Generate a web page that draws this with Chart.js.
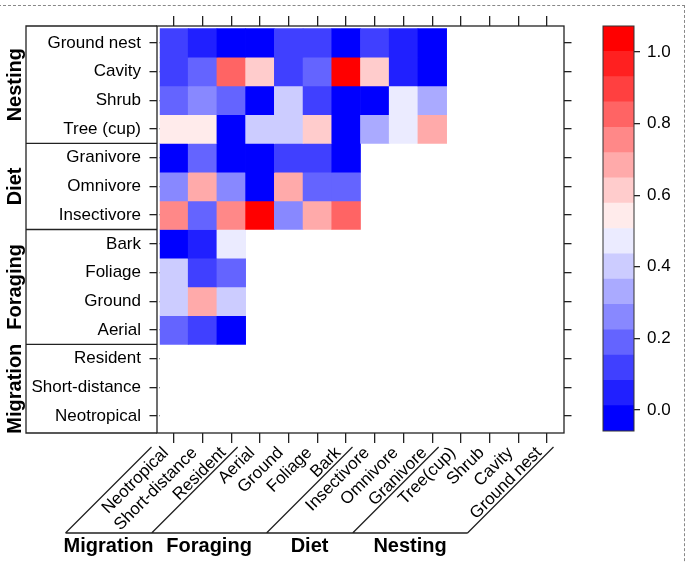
<!DOCTYPE html>
<html>
<head>
<meta charset="utf-8">
<script src="https://cdn.jsdelivr.net/npm/chart.js@4.4.1/dist/chart.umd.min.js"></script>
<style>
  html, body { margin: 0; padding: 0; background: #fff; }
  #wrap { position: relative; width: 690px; height: 563px; overflow: hidden; }
  #frame { position: absolute; left: -2px; top: 5px; width: 686px; height: 600px;
           border-top: 1px dashed #888; border-right: 1px dashed #888; }
  #heat { position: absolute; left: 0; top: 0; }
  #scale { position: absolute; left: 590px; top: 0; }
</style>
</head>
<body>
<div id="wrap">
  <div id="frame"></div>
  <canvas id="heat" width="690" height="563"></canvas>
  <canvas id="scale" width="100" height="563"></canvas>
</div>
<script>
// rows top -> bottom, columns left -> right
const rowLabels = ["Ground nest", "Cavity", "Shrub", "Tree (cup)", "Granivore", "Omnivore", "Insectivore",
  "Bark", "Foliage", "Ground", "Aerial", "Resident", "Short-distance", "Neotropical"];
const colLabels = ["Neotropical", "Short-distance", "Resident", "Aerial", "Ground", "Foliage", "Bark",
  "Insectivore", "Omnivore", "Granivore", "Tree(cup)", "Shrub", "Cavity", "Ground nest"];
const colGroups = ["Migration", "Foraging", "Diet", "Nesting"];
const colGroupSizes = [3, 4, 3, 4];

// one row per rowLabels entry, values by column (missing = empty cell)
const cellValues = [
  [0.12, 0.05, -0.02, -0.02, 0.12, 0.12, -0.02, 0.12, 0.05, -0.02],
  [0.12, 0.19, 0.82, 0.61, 0.12, 0.19, 1.04, 0.61, 0.05, -0.02],
  [0.19, 0.26, 0.19, -0.02, 0.40, 0.12, -0.02, -0.02, 0.47, 0.33],
  [0.54, 0.54, -0.02, 0.40, 0.40, 0.61, -0.02, 0.33, 0.47, 0.68],
  [-0.02, 0.19, -0.02, -0.02, 0.12, 0.12, -0.02],
  [0.26, 0.68, 0.26, -0.02, 0.68, 0.19, 0.19],
  [0.75, 0.19, 0.75, 1.04, 0.26, 0.68, 0.82],
  [-0.02, 0.05, 0.47],
  [0.40, 0.12, 0.19],
  [0.40, 0.68, 0.40],
  [0.19, 0.12, -0.02],
  [],
  [],
  []
];

const scaleMin = -0.059;
const scaleMax = 1.073;
const scaleTicks = [0, 0.2, 0.4, 0.6, 0.8, 1.0];
// colour bands, bottom -> top
const palette = ["#0000ff", "#2020ff", "#4040ff", "#6464ff", "#8888ff", "#aaaaff", "#ccccff", "#ebebff",
  "#ffebeb", "#ffcccc", "#ffaaaa", "#ff8888", "#ff6464", "#ff4040", "#ff2020", "#ff0000"];

Chart.defaults.font.family = '"Liberation Sans", Arial, sans-serif';
Chart.defaults.font.size = 17;
Chart.defaults.color = "#000";

const bandW = (scaleMax - scaleMin) / palette.length;
function colorFor(v) {
  let i = Math.floor((v - scaleMin) / bandW);
  i = Math.max(0, Math.min(palette.length - 1, i));
  return palette[i];
}

const heatSets = rowLabels.map((name, r) => {
  const vals = cellValues[r];
  return {
    label: name,
    data: colLabels.map((c, i) => vals[i] == null ? null : [r, r + 1]),
    backgroundColor: colLabels.map((c, i) => vals[i] == null ? "rgba(0,0,0,0)" : colorFor(vals[i])),
    borderWidth: 0,
    grouped: false,
    barPercentage: 1,
    categoryPercentage: 1
  };
});

const rowTicks = s => { s.ticks = rowLabels.map((n, r) => ({ value: r + 0.5 })); };
const tickGrid = { drawOnChartArea: false, tickLength: 10, color: "#222", lineWidth: 1.3, offset: false };

// frame, group boxes and bottom group brackets
const decor = {
  id: "decor",
  afterDraw(chart) {
    const { ctx, chartArea: a, scales } = chart;
    const x = scales.x, y = scales.y;
    ctx.save();
    ctx.fillStyle = "#fff";
    ctx.fillRect(a.left - 2.5, a.top + 1, 2.5, a.bottom - a.top - 2);
    ctx.fillRect(a.right, a.top + 1, 2.5, a.bottom - a.top - 2);
    ctx.strokeStyle = "#222";
    ctx.lineWidth = 1.3;
    ctx.strokeRect(a.left - 2.5, a.top, a.right - a.left + 5, a.bottom - a.top);

    // left boxes
    const boxL = 26;
    ctx.beginPath();
    ctx.moveTo(a.left - 2.5, a.top); ctx.lineTo(boxL, a.top);
    ctx.lineTo(boxL, a.bottom); ctx.lineTo(a.left - 2.5, a.bottom);
    const rowGroups = colGroups.slice().reverse();
    const rowSizes = colGroupSizes.slice().reverse();
    let start = 0;
    const spans = [];
    rowSizes.forEach((n) => {
      const end = start + n;
      const py = y.getPixelForValue(end);
      if (end < rowLabels.length) {
        ctx.moveTo(boxL, py); ctx.lineTo(a.left - 2.5, py);
      }
      spans.push([start === 0 ? a.top : y.getPixelForValue(start), end === rowLabels.length ? a.bottom : py]);
      start = end;
    });
    ctx.stroke();
    ctx.fillStyle = "#000";
    ctx.font = 'bold 20px "Liberation Sans", Arial, sans-serif';
    ctx.textAlign = "center";
    ctx.textBaseline = "middle";
    rowGroups.forEach((name, g) => {
      ctx.save();
      ctx.translate(15, (spans[g][0] + spans[g][1]) / 2);
      ctx.rotate(-Math.PI / 2);
      ctx.fillText(name, 0, 0);
      ctx.restore();
    });

    // bottom diagonal brackets
    const topY = a.bottom + 14, botY = a.bottom + 100;
    const bounds = [0];
    colGroupSizes.forEach(n => bounds.push(bounds[bounds.length - 1] + n));
    const tops = bounds.map(k => x.getPixelForValue(k - 0.5) - 8);
    const feet = tops.map(t => t - 86);
    ctx.beginPath();
    tops.forEach((t, j) => {
      ctx.moveTo(t, topY); ctx.lineTo(feet[j], botY);
    });
    ctx.moveTo(feet[0], botY); ctx.lineTo(feet[feet.length - 1], botY);
    ctx.stroke();
    colGroups.forEach((name, g) => {
      ctx.fillText(name, (feet[g] + feet[g + 1]) / 2, botY + 13);
    });
    ctx.restore();
  }
};

new Chart("heat", {
  type: "bar",
  data: { labels: colLabels, datasets: heatSets },
  options: {
    responsive: false,
    animation: false,
    events: [],
    layout: { padding: 0 },
    plugins: { legend: { display: false }, tooltip: { enabled: false } },
    scales: {
      x: {
        type: "category", position: "bottom", offset: true,
        grid: tickGrid, border: { display: false },
        ticks: { autoSkip: false, minRotation: 45, maxRotation: 45, padding: 0, labelOffset: -8 },
        afterFit: s => { s.height = 130; }
      },
      x2: {
        type: "category", position: "top", labels: colLabels, offset: true,
        grid: tickGrid, border: { display: false }, ticks: { display: false },
        afterFit: s => { s.height = 26; }
      },
      y: {
        type: "linear", position: "left", reverse: true, min: -0.09, max: 14.09,
        afterBuildTicks: rowTicks,
        grid: tickGrid, border: { display: false },
        ticks: { autoSkip: false, padding: 8.5, callback: (v, i) => rowLabels[i] },
        afterFit: s => { s.width = 159.5; }
      },
      y2: {
        type: "linear", position: "right", reverse: true, min: -0.09, max: 14.09,
        afterBuildTicks: rowTicks,
        grid: tickGrid, border: { display: false }, ticks: { display: false },
        afterFit: s => { s.width = 128.5; }
      }
    }
  },
  plugins: [decor]
});

// colour key
const keyFrame = {
  id: "keyFrame",
  afterDraw(chart) {
    const { ctx, chartArea: a } = chart;
    ctx.save();
    ctx.strokeStyle = "#333";
    ctx.lineWidth = 1;
    ctx.strokeRect(a.left, a.top, a.right - a.left, a.bottom - a.top);
    ctx.restore();
  }
};

new Chart("scale", {
  type: "bar",
  data: {
    labels: [""],
    datasets: palette.map((c, i) => ({
      data: [[scaleMin + i * bandW, scaleMin + (i + 1) * bandW]],
      backgroundColor: c, borderWidth: 0, grouped: false,
      barPercentage: 1, categoryPercentage: 1
    }))
  },
  options: {
    responsive: false,
    animation: false,
    events: [],
    layout: { padding: { left: 13, top: 26, bottom: 132, right: 0 } },
    plugins: { legend: { display: false }, tooltip: { enabled: false } },
    scales: {
      x: { display: false },
      y: {
        position: "right", min: scaleMin, max: scaleMax,
        afterBuildTicks: s => { s.ticks = scaleTicks.map(v => ({ value: v })); },
        ticks: { padding: 7, callback: v => v.toFixed(1) },
        grid: { drawOnChartArea: false, tickLength: 6, color: "#222", lineWidth: 1.3 },
        border: { display: false },
        afterFit: s => { s.width = 56; }
      }
    }
  },
  plugins: [keyFrame]
});
</script>
</body>
</html>
